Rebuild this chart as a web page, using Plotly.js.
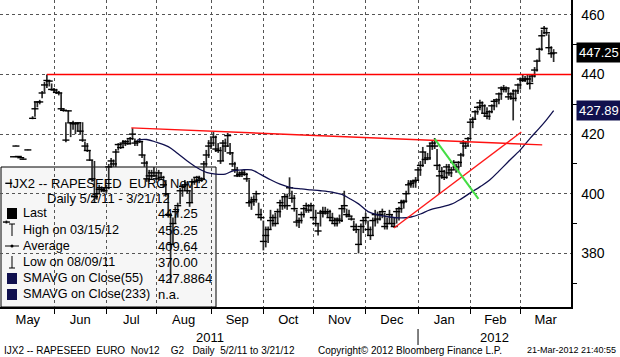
<!DOCTYPE html>
<html>
<head>
<meta charset="utf-8">
<script src="https://cdn.plot.ly/plotly-3.0.1.min.js"></script>
<style>
  html, body { margin: 0; padding: 0; background: #fff; }
  #chart { width: 620px; height: 357px; }
</style>
</head>
<body>
<div id="chart"></div>
<script>
// ---- DATA (trading-day index 0 = 2 May 2011, 232 = 21 Mar 2012) ----
const highs = [null,null,391,403.6,null,412.5,416.2,412.6,412.3,411.8,null,414.8,null,426,431,431,431.5,434.5,437.5,440,
438.2,437,435.5,435.2,434.5,434,428.5,424,428,424,424.5,424,424,424,424,417.5,417,414.5,411.3,411,
402,403,402.5,402,403,410,412,411.5,415,417,417,418,418,418.3,419,422,418.5,418,418.7,417.5,
413,411,408,408,409,407.5,408,407,406,404.6,400,393.5,392,395.6,397,402,403,404.6,404,401,
405,405.5,406,406,405.5,411,414.7,418,418.7,420.7,419.5,417,415.7,418,418.5,420.4,417,414,410.7,409,
407.5,408,408,407,404.6,399,399.5,401,397,395,391,389,389,394.6,393,393.6,395,398,399,400,
400,405.5,401,399.6,394.6,392,394,395.6,397,396.5,397,396,394.6,390,394.6,395.6,395.6,395,394.6,393.6,
392,392,393,396,401,395,394.6,392.5,391,390,388,390,392,393.6,391,389,392,394.6,394,394,
395,393.6,392,394.6,393,392,395,395.6,398,398,401,404.6,404.6,404.6,405.6,409,411,415.7,414,413.7,
417,418,418.7,415,410,409,408,410,410,409,411.3,410,411,413.7,418,417.4,419,424.8,425.8,428,
429.5,431.5,431,430,429,428,430,431.5,432,434,436,436.5,436,435.5,434,435,435,437,439,440,
439.5,440,439.5,440,442.5,445,449,455,456.25,455.6,453.5,449.5,448.5];
const lows = [null,null,390,403.4,null,412.3,416,412.4,412,411.5,null,414.6,null,425,425.8,429,430,432,434,435.5,
436,434.8,434,433.5,433,428,427.5,417.3,424,419,421.5,420,421,420,417.4,414.7,414,411,404,397,
398,400,400.5,400.5,400,401.5,409,409,409,414.5,415,415.5,416,416.4,416.5,418,416,416,417,412,
409,404,404,404.6,405.6,404.6,404.6,404.6,402,399,392,370,383,390,392,396.5,399,401,400,395.6,
397,403,404,403.5,404,405,409,412,415,416,414,413.7,410,411,414,415.7,413,409,407,405.6,
405.6,405.6,406,404,395.6,394.6,396,397,392,391,381,382,383.5,388,389,389,390,392,394.6,395,
394.6,399,397,394,389,388.5,390,392,393.6,393.6,394,391,389,386,389,392,393,392,391,390,
389,389,390,390.5,393.6,392,392,391,387.5,386.8,380,383,386.8,390,386,384.5,386,389,390,391,
391.8,388,388,390,389,388.5,390,391,393.6,395,397,400,402,402,402,404.6,406,409,410,411.3,
411.3,414.7,415,408,400,405,404.6,405,406,405.6,408,407,407,409,412.4,415,416,418.5,422,424.8,
426.5,428,427,426,425,424.8,427,428,429,430,431.5,434,434,431.5,431.5,424.6,431,433.5,435,437.5,
437.5,436.5,435,437.5,439,441,444.5,448,453.5,453,447.3,445.6,444.2];
const closes = [null,null,390.5,403.5,null,412.4,416,412.5,412.1,411.6,null,414.7,null,425.3,428.5,430.8,430.8,433.8,436.5,438,
437.8,435,434.8,434,433.8,428.5,428,418,427.8,423.8,423.5,423.5,423.8,421,418,416,414.5,411.3,405,399,
400,401.5,401.5,401,402,409,411,410,414,416.5,415.5,417,417.5,416.8,418.5,420,417,417.5,417.5,413,
410.3,405,406,407,406,405,407,405.5,403,400,393,383,390,394,396,401,402.5,403,401,397,
404,404,405.5,404.5,405,410,413,416,417,419,415,414.5,411,417,416,419.5,413.7,410,408,406,
406.5,407,406.5,405,397,397.5,398,400,393,392,384,386,388,391,392,390,394,397,396,399,
396,402,398.5,395,390.5,391,393,395,396,394.5,396,392,390,387.5,393.5,394,393.5,394,392,391,
390,391.5,391,395,396,393,392.5,391.5,389,388,383,389,391,392,388,386,391,393,391.5,393,
394,389,390,393,390,389,394,395,397,397.5,400,403,403.5,404,404.5,408,409.5,414,411.5,412,
416,417,416,409.5,406,407.5,405.5,409,407,408,410.5,409,410.5,413,417,416,418.5,424,425,427.5,
429,430.5,429.5,427,426,427.5,429.5,431,431.5,433.5,435.5,435,435.5,432.5,433.5,432,434.5,436.5,438.5,438,
438.5,438.5,437,439.5,441.5,444.5,448.5,453,455.5,454,449,447,447.25];

// 55-day simple moving average at these bar indices
const smaIdx = [57,61,65,70,74,78,82,86,90,94,97,101,105,109,113,117,122,126,130,134,139,143,146,150,154,158,163,168,172,176,180,185,189,193,197,201,205,209,213,218,222,226,229,232];
const smaVal = [418.1,418.2,417.3,415.8,413.5,411,408.8,407.2,406.6,406.6,407.6,408,408,406.4,404.7,403.2,402,401.6,401.3,401,400.5,399.8,398.5,396.6,394,392.9,392.2,391.9,392.2,393.2,394.6,395.6,396.5,398.2,400.3,402.3,404.5,407.6,410.8,414.7,418.5,422,424.8,427.89];

// Hand-drawn trend lines (bar index, price)
const resistX = [19, 239.3], resistY = [440, 440];
const downTrendX = [54.5, 227.2], downTrendY = [422.1, 416.4];
const upTrendX = [164.9, 218.4], upTrendY = [388.5, 420.7];
const greenX = [182, 200.4], greenY = [418.4, 398.3];

const months = ['May','Jun','Jul','Aug','Sep','Oct','Nov','Dec','Jan','Feb','Mar'];
const monthStartIdx = [0,22,44,65,88,110,131,153,175,197,218];
const years = ['2011','2012'];
const yearMidIdx = [87.5, 207];
const yearSplitIdx = 175;
const yTicks = [380,400,420,440,460];
const yMinor = [370,390,410,430,450];

const lastPrice = 447.25;
const smaLast = 427.89;
const legendLabels = ['Last','High on 03/15/12','Average','Low on 08/09/11','SMAVG on Close(55)','SMAVG on Close(233)'];
const legendValues = ['447.25','456.25','409.64','370.00','427.8864','n.a.'];

// ---- BUILD ----
const X_END = 239.3;
const barX = [], barY = [], tickX = [], tickY = [];
highs.forEach((h, i) => {
  if (h == null) return;
  barX.push(i, i, null); barY.push(lows[i], h, null);
  tickX.push(i); tickY.push(closes[i]);
});
const mids = monthStartIdx.map((s, k) => (s + (k + 1 < monthStartIdx.length ? monthStartIdx[k + 1] : X_END)) / 2);

const PW = 571, PH = 307;
const px = v => v / PW;
const py = v => (PH - v) / PH;
const FONT = '"Liberation Sans Narrow", "Liberation Sans", Arial, sans-serif';
const LFONT = '"Liberation Sans", Arial, sans-serif';
const NAVY = '#10104e';

const traces = [
  { x: barX, y: barY, type: 'scatter', mode: 'lines', line: { color: '#2a2a2a', width: 1.7 }, hoverinfo: 'skip' },
  { x: tickX, y: tickY, type: 'scatter', mode: 'markers', marker: { symbol: 'line-ew', size: 5, line: { color: '#000', width: 1.4 } }, hoverinfo: 'skip' },
  { x: smaIdx, y: smaVal, type: 'scatter', mode: 'lines', line: { color: NAVY, width: 1.3, shape: 'spline' }, hoverinfo: 'skip' },
  { x: resistX, y: resistY, type: 'scatter', mode: 'lines', line: { color: '#ff0000', width: 1.4 }, hoverinfo: 'skip' },
  { x: downTrendX, y: downTrendY, type: 'scatter', mode: 'lines', line: { color: '#ff1010', width: 1.4 }, hoverinfo: 'skip' },
  { x: upTrendX, y: upTrendY, type: 'scatter', mode: 'lines', line: { color: '#ff1a1a', width: 1.4 }, hoverinfo: 'skip' },
  { x: greenX, y: greenY, type: 'scatter', mode: 'lines', line: { color: '#44dd44', width: 2 }, hoverinfo: 'skip' },
  { x: yTicks.map(() => X_END + 2.0), y: yTicks, type: 'scatter', mode: 'markers', cliponaxis: false,
    marker: { symbol: 'triangle-right', size: 8, color: '#000' }, hoverinfo: 'skip' },
  { x: [X_END + 0.6, X_END + 0.6], y: [lastPrice, smaLast], type: 'scatter', mode: 'markers', cliponaxis: false,
    marker: { symbol: 'triangle-left', size: 13, color: ['#000', NAVY] }, hoverinfo: 'skip' }
];

const shapes = [
  { type: 'rect', xref: 'paper', yref: 'paper', x0: px(1), x1: px(216), y0: py(307), y1: py(167),
    fillcolor: '#f6f6f6', line: { color: '#000', width: 1 }, layer: 'below' },
  { type: 'rect', xref: 'paper', yref: 'paper', x0: px(7), x1: px(17), y0: py(219), y1: py(208), fillcolor: '#000', line: { width: 0 } },
  { type: 'line', xref: 'paper', yref: 'paper', x0: px(12), x1: px(12), y0: py(236), y1: py(224), line: { color: '#000', width: 1 } },
  { type: 'line', xref: 'paper', yref: 'paper', x0: px(9), x1: px(15), y0: py(224), y1: py(224), line: { color: '#000', width: 1 } },
  { type: 'line', xref: 'paper', yref: 'paper', x0: px(5), x1: px(19), y0: py(246), y1: py(246), line: { color: '#000', width: 1 } },
  { type: 'circle', xref: 'paper', yref: 'paper', x0: px(10.5), x1: px(13.5), y0: py(247.5), y1: py(244.5), fillcolor: '#000', line: { width: 0 } },
  { type: 'line', xref: 'paper', yref: 'paper', x0: px(12), x1: px(12), y0: py(268), y1: py(256), line: { color: '#000', width: 1 } },
  { type: 'line', xref: 'paper', yref: 'paper', x0: px(9), x1: px(15), y0: py(268), y1: py(268), line: { color: '#000', width: 1 } },
  { type: 'rect', xref: 'paper', yref: 'paper', x0: px(7), x1: px(17), y0: py(284), y1: py(273), fillcolor: NAVY, line: { width: 0 } },
  { type: 'rect', xref: 'paper', yref: 'paper', x0: px(7), x1: px(17), y0: py(300), y1: py(289), fillcolor: NAVY, line: { width: 0 } },
  { type: 'line', xref: 'x', yref: 'paper', x0: yearSplitIdx, x1: yearSplitIdx, y0: py(329), y1: py(345), line: { color: '#000', width: 1 } }
];

const rowsY = [213, 230, 246, 262, 278, 294];
const annotations = [];
const lf = { family: LFONT, size: 13, color: '#000' };
annotations.push({ xref: 'paper', yref: 'paper', x: px(108), y: py(183), text: 'IJX2 -- RAPESEED\u00a0\u00a0EURO Nov12', showarrow: false, xanchor: 'center', yanchor: 'middle', font: lf });
annotations.push({ xref: 'paper', yref: 'paper', x: px(108), y: py(198), text: 'Daily 5/2/11 - 3/21/12', showarrow: false, xanchor: 'center', yanchor: 'middle', font: lf });
legendLabels.forEach((t, k) => {
  annotations.push({ xref: 'paper', yref: 'paper', x: px(21), y: py(rowsY[k]), text: t, showarrow: false, xanchor: 'left', yanchor: 'middle', font: { family: LFONT, size: 12.6, color: '#000' } });
  annotations.push({ xref: 'paper', yref: 'paper', x: px(156), y: py(rowsY[k]), text: legendValues[k], showarrow: false, xanchor: 'left', yanchor: 'middle', font: lf });
});
years.forEach((t, k) => annotations.push({ xref: 'x', yref: 'paper', x: yearMidIdx[k], y: py(337), text: t, showarrow: false, xanchor: 'center', yanchor: 'middle', font: { family: FONT, size: 13, color: '#000' } }));
const ff = { family: FONT, size: 10, color: '#000' };
annotations.push({ xref: 'paper', yref: 'paper', x: px(2), y: py(350), text: 'IJX2 -- RAPESEED\u00a0\u00a0EURO\u00a0\u00a0Nov12\u00a0\u00a0\u00a0\u00a0G2\u00a0\u00a0\u00a0Daily\u00a0\u00a05/2/11 to 3/21/12', showarrow: false, xanchor: 'left', yanchor: 'middle', font: ff });
annotations.push({ xref: 'paper', yref: 'paper', x: px(316), y: py(350), text: 'Copyright\u00a9 2012 Bloomberg Finance L.P.', showarrow: false, xanchor: 'left', yanchor: 'middle', font: ff });
annotations.push({ xref: 'paper', yref: 'paper', x: px(618), y: py(350), text: '21-Mar-2012 21:40:55', showarrow: false, xanchor: 'right', yanchor: 'middle', font: { family: FONT, size: 9, color: '#000' } });
// price tags on the right axis
[[lastPrice, '#000'], [smaLast, NAVY]].forEach(([v, c]) => annotations.push({
  xref: 'paper', yref: 'y', x: px(576), y: v, text: v.toFixed(2), showarrow: false, xanchor: 'left', yanchor: 'middle',
  bgcolor: c, borderpad: 2, font: { family: LFONT, size: 13, color: '#fff' }
}));

const layout = {
  width: 620, height: 357,
  margin: { l: 0, r: 49, t: 0, b: 50, pad: 0 },
  paper_bgcolor: '#fff', plot_bgcolor: '#fff',
  showlegend: false,
  xaxis: {
    range: [-0.7, X_END], fixedrange: true, zeroline: false,
    tickmode: 'array', tickvals: mids, ticktext: months, ticks: '', showgrid: false,
    tickfont: { family: FONT, size: 13, color: '#000' }, ticklabelstandoff: 0,
    showline: true, linecolor: '#000', linewidth: 1.5,
    minor: { tickmode: 'array', tickvals: monthStartIdx.slice(1), ticks: 'outside', ticklen: 5, tickcolor: '#000',
             showgrid: true, gridcolor: '#555', griddash: 'dot', gridwidth: 1 }
  },
  yaxis: {
    side: 'right', range: [362, 465], fixedrange: true, zeroline: false,
    tickmode: 'array', tickvals: yTicks, ticktext: yTicks.map(String), ticks: '',
    showgrid: true, gridcolor: '#555', griddash: 'dot', gridwidth: 1,
    tickfont: { family: FONT, size: 14, color: '#000' }, ticklabelstandoff: 6,
    showline: true, linecolor: '#000', linewidth: 1.5,
    minor: { tickmode: 'array', tickvals: yMinor, ticks: 'outside', ticklen: 4, tickcolor: '#000', showgrid: false }
  },
  shapes: shapes,
  annotations: annotations
};

Plotly.newPlot('chart', traces, layout, { staticPlot: true, displayModeBar: false });
</script>
</body>
</html>
